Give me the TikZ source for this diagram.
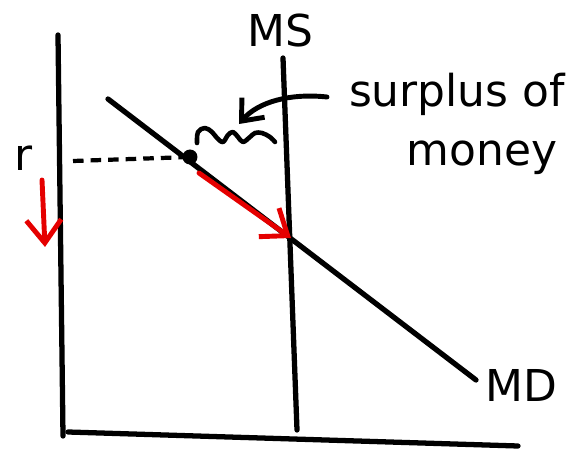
\documentclass[tikz,border=0pt]{standalone}
\usepackage{fontspec}
\setsansfont{DejaVu Sans}
\usetikzlibrary{arrows.meta}
\tikzset{
  ax/.style={line width=3pt, line cap=round, line join=round},
  fall/.style={line width=2.8pt, draw=red!90!black, line cap=round,
               -{Straight Barb[length=4.6mm, width=7mm, line width=2.8pt]}},
  note/.style={line width=2.8pt, line cap=round,
               -{Straight Barb[length=3.6mm, width=6mm, line width=2.8pt]}},
  lab/.style={font=\sffamily\fontsize{25}{29}\selectfont, inner sep=0pt},
  dot/.style={circle, fill, inner sep=0pt, minimum size=3mm},
}
\begin{document}
\begin{tikzpicture}[x=0.02cm, y=-0.02cm]
  \useasboundingbox (0,0) rectangle (576,449);
  % axes
  \coordinate (ytop) at (58,35);
  \coordinate (orig) at (63,436);
  \coordinate (xstart) at (68,432);
  \coordinate (xend) at (518,446);
  \draw[ax] (ytop) -- (orig);
  \draw[ax] (xstart) -- (xend);
  \node[lab] (r) at (24,158) {r};
  % money supply
  \coordinate (mstop) at (283,58);
  \coordinate (msbot) at (297,430);
  \draw[ax] (mstop) -- (msbot);
  \node[lab] (ms) at (280,31) {MS};
  % money demand
  \coordinate (mdtop) at (108,99);
  \coordinate (mdbot) at (476,380);
  \draw[ax] (mdtop) -- (mdbot);
  \node[lab] (md) at (521,385) {MD};
  % rate above equilibrium
  \node[dot] (pt) at (190,157) {};
  \coordinate (rlev) at (73,161);
  \draw[line width=2.4pt, dash pattern=on 6pt off 4pt] (rlev) -- (pt);
  % red shifts
  \coordinate (rtop) at (42,180);
  \coordinate (rbot) at (45,247);
  \draw[fall] (rtop) -- (rbot);
  \coordinate (slide0) at (199,173);
  \coordinate (slide1) at (291,238);
  \draw[fall] (slide0) -- (slide1);
  % surplus
  \draw[ax, line width=2.6pt] plot[smooth, tension=0.6] coordinates
    {(197,143) (198,132) (205,128) (212,132) (217,138) (223,142) (228,135)
     (233,132) (238,137) (243,142) (250,137) (255,133) (262,133) (270,137)
     (275,142)};
  \coordinate (wig) at (239,124);
  \coordinate (from) at (327,97);
  \draw[note] (from) .. controls (290,93) and (258,102) .. (wig);
  \node[lab] (surplus) at (457,94) {surplus of};
  \node[lab] (money) at (482,158) {money};
\end{tikzpicture}
\end{document}
